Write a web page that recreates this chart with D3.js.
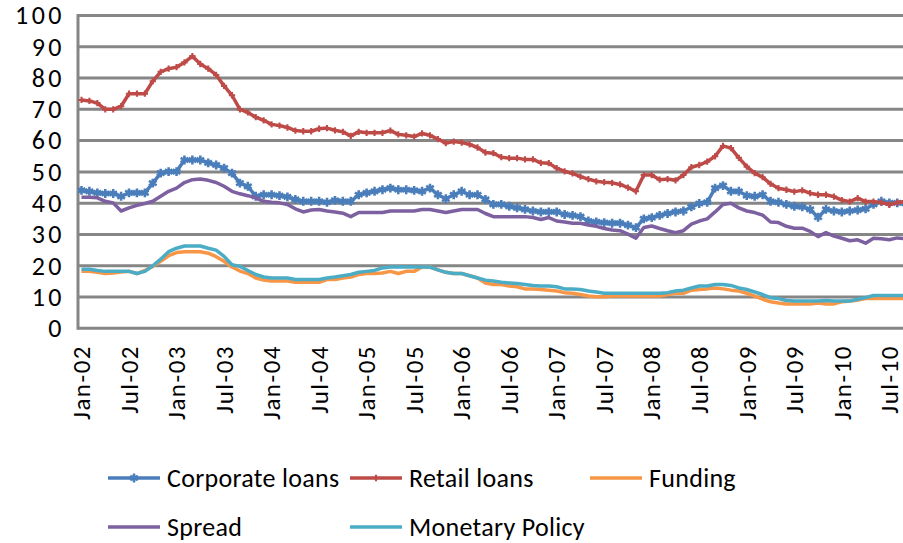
<!DOCTYPE html>
<html>
<head>
<meta charset="utf-8">
<script src="https://cdn.jsdelivr.net/npm/d3@7"></script>
<style>
  body { margin: 0; background: #fff; }
  text { font-family: Calibri, Carlito, Lato, sans-serif; fill: #000; }
</style>
</head>
<body>
<div class="chart"></div>
<script>
// Monthly observations, Jan-02 .. Sep-10
const months = d3.timeMonths(new Date(2002, 0, 1), new Date(2010, 9, 1));

const tickLabels = ["Jan-02", "Jul-02", "Jan-03", "Jul-03", "Jan-04", "Jul-04", "Jan-05", "Jul-05", "Jan-06",
  "Jul-06", "Jan-07", "Jul-07", "Jan-08", "Jul-08", "Jan-09", "Jul-09", "Jan-10", "Jul-10"];

const corporate = [44.1, 43.8, 43.3, 43.1, 43.1, 42.2, 43.3, 43.3, 43.3, 46.4, 49.6, 50.1, 50.1, 53.8, 53.8, 53.8, 52.9, 52.2, 51.2, 49.6, 46.4,
  45.4, 42.2, 42.7, 42.7, 42.4, 42, 41.2, 40.6, 40.6, 40.6, 40.3, 40.9, 40.6, 40.6, 42.7, 43.3, 43.8, 44.3, 44.8, 44.3, 44.3,
  44.1, 43.8, 44.8, 42.7, 41.4, 42.7, 43.8, 42.7, 42.7, 41.2, 39.6, 39.6, 39, 38.5, 38, 37.5, 37.2, 37.2, 37.2, 36.4, 36.1,
  35.7, 34.3, 34, 33.8, 33.6, 33.6, 33, 32.2, 35, 35.4, 36.1, 36.7, 37.2, 37.5, 38.8, 39.9, 40.3, 44.8, 45.6, 43.8, 43.8,
  42.4, 42.2, 42.7, 40.6, 40.3, 39.6, 39, 38.8, 38, 35.5, 38, 37.5, 37.2, 37.5, 37.8, 38.2, 39.6, 40.6, 40.1, 40.1, 40];

const retail = [73, 72.7, 72, 70, 70, 71, 75, 75, 75, 79, 82, 83, 83.5, 85, 87, 84.5, 83, 81, 77.5, 74.5, 70,
  69, 67.5, 66.5, 65.2, 64.8, 64.2, 63.2, 63, 63, 63.8, 64, 63.3, 62.8, 61.5, 62.8, 62.5, 62.5, 62.5, 63.2, 62, 61.7,
  61.3, 62.3, 61.7, 60.5, 59.2, 59.7, 59.4, 58.8, 57.8, 56.2, 56, 54.7, 54.4, 54.4, 54, 54, 52.9, 52.8, 51.2, 50.2, 49.5,
  48.5, 47.7, 47, 46.7, 46.5, 46, 45, 43.8, 49, 49, 47.5, 47.7, 47.3, 49, 51.5, 52.2, 53.3, 55, 58.3, 57.6, 54.5,
  51.7, 49.6, 48.3, 46.2, 44.8, 44.3, 43.7, 44.1, 43.2, 42.7, 42.7, 42.1, 41, 40.5, 41.6, 40.5, 40.5, 40.2, 39.5, 40.2, 40.5];

const funding = [18.2, 18.2, 17.9, 17.5, 17.7, 18, 18.2, 17.5, 18.5, 19.8, 21.4, 23.2, 24.2, 24.5, 24.5, 24.5, 24, 22.9, 21.4, 19.6, 18.3,
  17.5, 16.1, 15.4, 15.1, 15.1, 15.1, 14.7, 14.7, 14.7, 14.7, 15.6, 15.6, 16.1, 16.4, 17.2, 17.5, 17.5, 17.7, 18.2, 17.5, 18.2,
  18.2, 19.6, 19.6, 18.7, 17.9, 17.5, 17.5, 16.8, 16.1, 14.5, 14, 14, 13.5, 13.3, 12.6, 12.6, 12.4, 12.2, 11.9, 11.4, 11.2,
  10.8, 10.3, 10.1, 10.1, 10.3, 10.3, 10.3, 10.3, 10.3, 10.3, 10.3, 10.8, 11.2, 11.2, 12.2, 12.4, 12.6, 12.9, 12.6, 12.2, 11.9,
  11.2, 10.3, 9.3, 8.5, 8.1, 7.8, 7.8, 7.8, 7.8, 8.1, 7.8, 7.8, 8.5, 8.7, 9, 9.5, 9.5, 9.5, 9.5, 9.5, 9.5];

const spread = [41.9, 41.9, 41.7, 40.6, 40.1, 37.5, 38.5, 39.3, 39.9, 40.6, 42.2, 43.8, 44.8, 46.6, 47.5, 47.7, 47.3, 46.6, 45.4, 43.8, 43,
  42.4, 41.7, 40.6, 40.3, 40.1, 39.6, 38.2, 37.2, 37.8, 38, 37.5, 37.2, 36.8, 35.7, 37, 37, 37, 37, 37.5, 37.5, 37.5,
  37.5, 38, 38, 37.5, 37, 37.5, 38, 38, 38, 36.7, 35.7, 35.7, 35.7, 35.7, 35.7, 35.4, 34.8, 35.4, 34.3, 34, 33.6,
  33.6, 33, 32.6, 31.9, 31.4, 31.2, 30.1, 28.8, 32.2, 32.7, 31.9, 31.2, 30.6, 31.2, 33.3, 34.3, 35, 37.2, 39.6, 40, 38.5,
  37.5, 37, 36.2, 34, 33.8, 32.6, 32, 32, 31, 29.3, 30.6, 29.5, 28.8, 28, 28.3, 27.2, 28.8, 28.6, 28.3, 28.9, 28.6];

const monetary = [18.9, 18.9, 18.5, 18.2, 18.2, 18.2, 18.2, 17.5, 18.2, 20, 22.1, 24.5, 25.6, 26.3, 26.3, 26.3, 25.6, 25, 23, 20.3, 19.8,
  18.5, 17.2, 16.4, 16.1, 16.1, 16.1, 15.6, 15.6, 15.6, 15.6, 16.1, 16.4, 16.8, 17.2, 17.9, 18.2, 18.5, 19.3, 19.6, 19.6, 19.6,
  19.6, 19.6, 19.6, 18.7, 17.9, 17.5, 17.5, 16.8, 16.1, 15.4, 15.1, 14.7, 14.5, 14.3, 14, 13.7, 13.5, 13.5, 13.3, 12.6, 12.6,
  12.4, 11.9, 11.6, 11.2, 11.2, 11.2, 11.2, 11.2, 11.2, 11.2, 11.2, 11.4, 11.9, 12.2, 12.9, 13.5, 13.5, 14, 14, 13.7, 12.9,
  12.4, 11.6, 10.8, 9.8, 9.5, 8.9, 8.7, 8.7, 8.7, 8.7, 8.9, 8.7, 8.7, 8.7, 9.3, 9.8, 10.5, 10.5, 10.5, 10.5, 10.5];

const seriesNames = ["Corporate loans", "Retail loans", "Funding", "Spread", "Monetary Policy"];
const seriesColors = ["#4a7ebb", "#be4b48", "#f79646", "#7d60a0", "#4bacc6"];
const seriesValues = [corporate, retail, funding, spread, monetary];

const width = 903;
const height = 543;
const plot = { left: 78, top: 15.5, bottom: 328.3, right: 930 };

const svg = d3.select(".chart")
  .append("svg")
  .attr("width", width)
  .attr("height", height);

// month index -> pixel (Excel "between tick marks" offset)
const xScale = d3.scaleLinear()
  .domain([0, 102])
  .range([81.5, 81.5 + 7.92 * 102]);

const yScale = d3.scaleLinear()
  .domain([0, 100])
  .range([plot.bottom, plot.top]);

const gridColor = "#868686";

// gridlines
svg.append("g")
  .selectAll("line")
  .data(d3.range(10, 101, 10))
  .join("line")
  .attr("x1", plot.left)
  .attr("x2", plot.right)
  .attr("y1", d => yScale(d))
  .attr("y2", d => yScale(d))
  .attr("stroke", gridColor)
  .attr("stroke-width", 3);

// axis lines
svg.append("line")
  .attr("x1", plot.left).attr("x2", plot.left)
  .attr("y1", yScale(100) - 1.5).attr("y2", yScale(0) + 1.5)
  .attr("stroke", gridColor).attr("stroke-width", 3);
svg.append("line")
  .attr("x1", plot.left).attr("x2", plot.right)
  .attr("y1", yScale(0)).attr("y2", yScale(0))
  .attr("stroke", gridColor).attr("stroke-width", 3);

// y axis labels
const yAxis = svg.append("g")
  .attr("transform", `translate(${plot.left}, 0)`)
  .call(d3.axisLeft(yScale).tickValues(d3.range(0, 101, 10)).tickSize(0).tickPadding(13));
yAxis.select(".domain").remove();
yAxis.selectAll("text")
  .style("font-size", "26px")
  .style("letter-spacing", "3.5px")
  .style("font-family", "Calibri, Carlito, Lato, sans-serif");

// x axis labels, rotated
svg.append("g")
  .selectAll("text")
  .data(tickLabels)
  .join("text")
  .attr("transform", (d, i) => `translate(${xScale(i * 6)}, 345) rotate(-90)`)
  .attr("text-anchor", "end")
  .attr("dy", "0.35em")
  .style("font-size", "25px")
  .style("letter-spacing", "1.5px")
  .text(d => d);

// lines
const line = d3.line()
  .x((d, i) => xScale(i))
  .y(d => yScale(d));

svg.append("defs").append("clipPath").attr("id", "plotclip")
  .append("rect").attr("x", plot.left).attr("y", 0).attr("width", width - plot.left).attr("height", plot.bottom + 4);

const series = svg.append("g").attr("clip-path", "url(#plotclip)");

const starSymbol = d3.symbol().type(d3.symbolAsterisk || d3.symbolCross).size(55);
const crossSymbol = d3.symbol().type(d3.symbolCross).size(22);

seriesValues.forEach((vals, k) => {
  series.append("path")
    .datum(vals)
    .attr("d", line)
    .attr("fill", "none")
    .attr("stroke", seriesColors[k])
    .attr("stroke-width", 3.5)
    .attr("stroke-linejoin", "round");

  if (k === 0) {
    series.append("g")
      .selectAll("path")
      .data(vals)
      .join("path")
      .attr("transform", (d, i) => `translate(${xScale(i)}, ${yScale(d)})`)
      .attr("d", starSymbol)
      .attr("fill", "none")
      .attr("stroke", seriesColors[k])
      .attr("stroke-width", 2.6);
  }
  if (k === 1) {
    series.append("g")
      .selectAll("path")
      .data(vals)
      .join("path")
      .attr("transform", (d, i) => `translate(${xScale(i)}, ${yScale(d)})`)
      .attr("d", crossSymbol)
      .attr("fill", seriesColors[k]);
  }
});

// legend
const legendPos = [[108, 478], [350, 478], [590, 478], [108, 527], [350, 527]];
const legend = svg.append("g");
seriesNames.forEach((name, k) => {
  const [lx, ly] = legendPos[k];
  const g = legend.append("g").attr("transform", `translate(${lx}, ${ly})`);
  g.append("line")
    .attr("x1", 0).attr("x2", 52)
    .attr("y1", 0).attr("y2", 0)
    .attr("stroke", seriesColors[k])
    .attr("stroke-width", 3.5);
  if (k === 0) {
    g.append("path").attr("transform", "translate(26,0)").attr("d", starSymbol)
      .attr("fill", "none").attr("stroke", seriesColors[k]).attr("stroke-width", 2.6);
  }
  if (k === 1) {
    g.append("path").attr("transform", "translate(26,0)").attr("d", crossSymbol)
      .attr("fill", seriesColors[k]);
  }
  g.append("text")
    .attr("x", 59)
    .attr("dy", "0.35em")
    .style("font-size", "26px")
    .style("letter-spacing", "0.3px")
    .text(name);
});
</script>
</body>
</html>
